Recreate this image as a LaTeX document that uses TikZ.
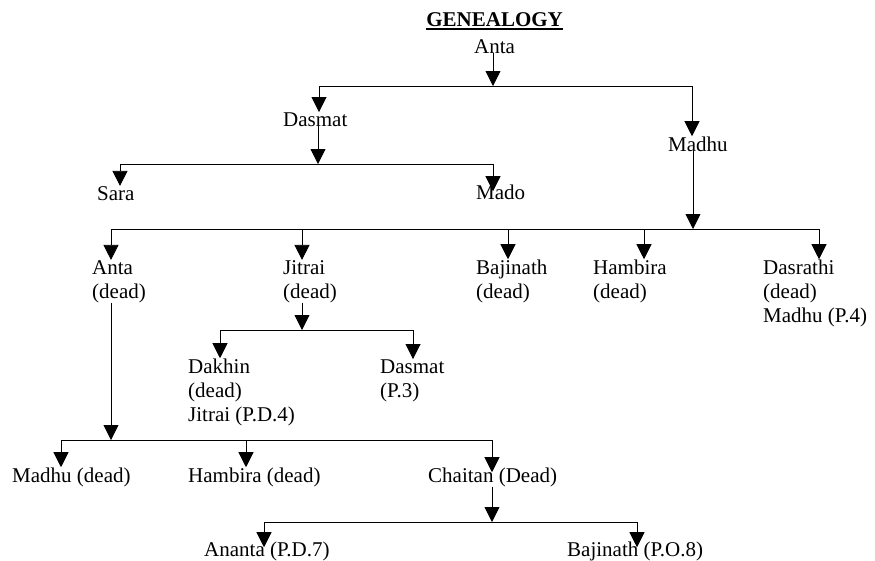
\documentclass[tikz,border=0pt]{standalone}
\usepackage{fontspec}
\setmainfont{Liberation Serif}
\usepackage{tikz}
\usetikzlibrary{arrows.meta}

\newcommand{\famfont}{\fontsize{21}{24}\selectfont}
\newcommand{\ulinetext}[1]{\setbox0\hbox{#1}\rlap{\copy0}\rule[-3.8pt]{\wd0}{1.4pt}}

\tikzset{
  person/.style={inner sep=0pt, anchor=base west, align=left, font=\famfont},
  heading/.style={inner sep=0pt, anchor=base, font=\famfont\bfseries},
  bar/.style={draw, line width=0.8pt},
  kin/.style={bar, -{Triangle[width=15pt,length=15pt]}},
}

\begin{document}
\begin{tikzpicture}[x=1pt,y=-1pt]
  \useasboundingbox (0,0) rectangle (875,560);

  % multi-line names sit on the baseline of their last line
  \node[person]                (anta)      at (474,53)  {Anta} ;
  \node[heading] (title) at ([yshift=27pt]anta.base) {\ulinetext{GENEALOGY}} ;
  \node[person]                (dasmat)    at (283,126) {Dasmat} ;
  \node[person]                (madhu)     at (668,151) {Madhu} ;
  \node[person]                (sara)      at (97,200)  {Sara} ;
  \node[person]                (mado)      at (476,199) {Mado} ;

  \node[person]                (antad)     at (92,298)  {Anta\\(dead)} ;
  \node[person]                (jitrai)    at (283,298) {Jitrai\\(dead)} ;
  \node[person]                (bajinath)  at (476,298) {Bajinath\\(dead)} ;
  \node[person]                (hambira)   at (593,298) {Hambira\\(dead)} ;
  \node[person]                (dasrathi)  at (763,322) {Dasrathi\\(dead)\\Madhu (P.4)} ;

  \node[person]                (dakhin)    at (188,421) {Dakhin\\(dead)\\Jitrai (P.D.4)} ;
  \node[person]                (dasmatp)   at (380,397) {Dasmat\\(P.3)} ;

  \node[person]                (madhud)    at (12,482)  {Madhu (dead)} ;
  \node[person]                (hambirad)  at (188,482) {Hambira (dead)} ;
  \node[person]                (chaitan)   at (428,482) {Chaitan (Dead)} ;

  \node[person]                (ananta)    at (204,556) {Ananta (P.D.7)} ;
  \node[person]                (bajinathp) at (567,556) {Bajinath (P.O.8)} ;

  % Anta
  \coordinate (a0) at (493,86);
  \coordinate (a1) at (319,86);
  \coordinate (a2) at (692,86);
  \draw[kin] (anta.south -| a0) -- (a0);
  \draw[bar] (a1) -- (a2);
  \foreach \c/\k/\o in {a1/dasmat/0, a2/madhu/0}
    \draw[kin, shorten >=-\o pt] (\c) -- (\c |- \k.north);

  % Dasmat
  \coordinate (d0) at (318,164);
  \coordinate (d1) at (120,164);
  \coordinate (d2) at (493,164);
  \draw[kin] (dasmat.south -| d0) -- (d0);
  \draw[bar] (d1) -- (d2);
  \foreach \c/\k/\o in {d1/sara/0, d2/mado/7}
    \draw[kin, shorten >=-\o pt] (\c) -- (\c |- \k.north);

  % Madhu
  \coordinate (m0) at (693,229);
  \coordinate (m1) at (111,229);
  \coordinate (m2) at (302,229);
  \coordinate (m3) at (508,229);
  \coordinate (m4) at (644,229);
  \coordinate (m5) at (819,229);
  \draw[kin] (madhu.south -| m0) -- (m0);
  \draw[bar] (m1) -- (m5);
  \foreach \c/\k/\o in {m1/antad/0, m2/jitrai/0, m3/bajinath/0, m4/hambira/0, m5/dasrathi/0}
    \draw[kin, shorten >=-\o pt] (\c) -- (\c |- \k.north);

  % Jitrai
  \coordinate (j0) at (302,330);
  \coordinate (j1) at (220,330);
  \coordinate (j2) at (413,330);
  \draw[kin] (jitrai.south -| j0) -- (j0);
  \draw[bar] (j1) -- (j2);
  \foreach \c/\k/\o in {j1/dakhin/0, j2/dasmatp/0}
    \draw[kin, shorten >=-\o pt] (\c) -- (\c |- \k.north);

  % Anta (dead)
  \coordinate (t0) at (111,440);
  \coordinate (t1) at (61,440);
  \coordinate (t2) at (246,440);
  \coordinate (t3) at (492,440);
  \draw[kin] (antad.south -| t0) -- (t0);
  \draw[bar] (t1) -- (t3);
  \foreach \c/\k/\o in {t1/madhud/0, t2/hambirad/0, t3/chaitan/5}
    \draw[kin, shorten >=-\o pt] (\c) -- (\c |- \k.north);

  % Chaitan
  \coordinate (c0) at (492,522);
  \coordinate (c1) at (264,522);
  \coordinate (c2) at (637,522);
  \draw[kin] (chaitan.south -| c0) -- (c0);
  \draw[bar] (c1) -- (c2);
  \foreach \c/\k/\o in {c1/ananta/6, c2/bajinathp/6}
    \draw[kin, shorten >=-\o pt] (\c) -- (\c |- \k.north);

\end{tikzpicture}
\end{document}
